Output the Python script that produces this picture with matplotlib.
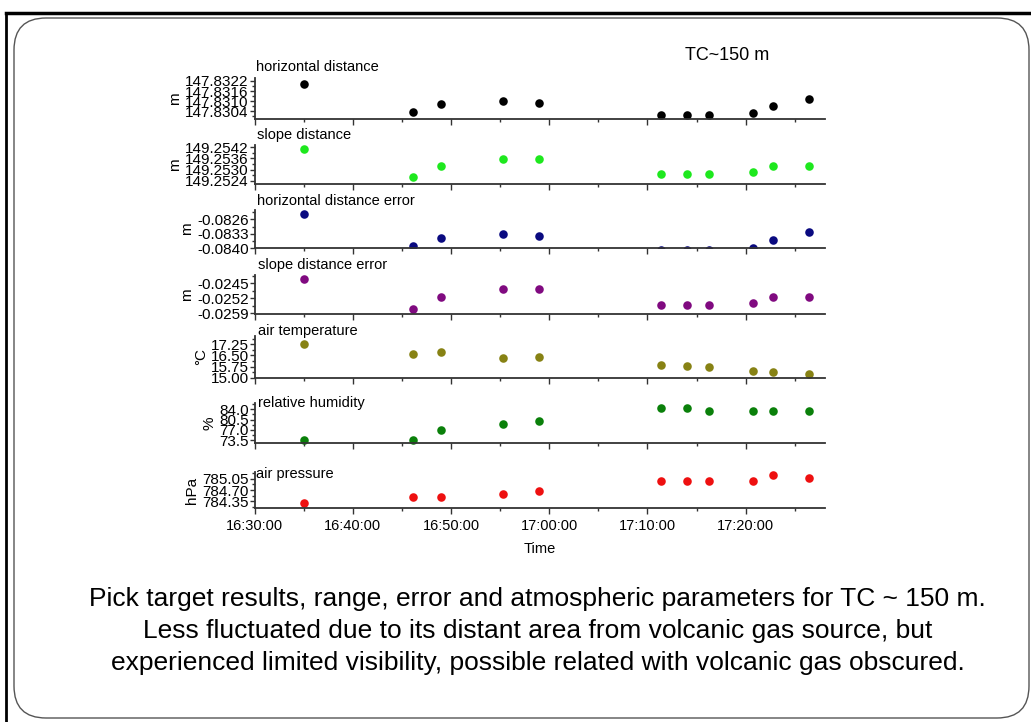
import matplotlib
matplotlib.use('Agg')
import matplotlib.pyplot as plt
import matplotlib.dates as mdates
from matplotlib.ticker import FormatStrFormatter, AutoMinorLocator
from matplotlib.patches import FancyBboxPatch
from matplotlib.lines import Line2D
import pandas as pd

plt.rcParams['font.family'] = ['Liberation Sans', 'DejaVu Sans']
plt.rcParams['axes.unicode_minus'] = False

# donnees
times = ['16:35:01', '16:46:09', '16:48:56', '16:55:19', '16:58:57', '17:11:24',
         '17:14:03', '17:16:14', '17:20:43', '17:22:49', '17:26:29']
horiz_dist = [147.83204, 147.83038, 147.83082, 147.83101, 147.83091, 147.8302,
              147.8302, 147.8302, 147.83032, 147.83072, 147.83111]
slope_dist = [149.25411, 149.25258, 149.25319, 149.25359, 149.25359, 149.25276,
              149.25276, 149.25276, 149.25287, 149.25319, 149.25319]
horiz_err = [-0.08234, -0.08387, -0.08352, -0.08332, -0.08342, -0.08407,
             -0.08407, -0.08407, -0.08397, -0.0836, -0.08321]
slope_err = [-0.0243, -0.0257, -0.02514, -0.02478, -0.02478, -0.02551,
             -0.02551, -0.02551, -0.02543, -0.02514, -0.02514]
air_temp = [17.25, 16.6, 16.73, 16.30, 16.41, 15.88, 15.79, 15.70, 15.47, 15.38, 15.27]
humidity = [73.6, 73.6, 76.9, 78.9, 80.2, 84.45, 84.45, 83.3, 83.3, 83.3, 83.3]
pressure = [784.29, 784.48, 784.48, 784.58, 784.68, 784.99, 784.99, 784.99,
            784.99, 785.19, 785.09]

titles = ['horizontal distance', 'slope distance', 'horizontal distance error',
          'slope distance error', 'air temperature', 'relative humidity', 'air pressure']
units = ['m', 'm', 'm', 'm', '°C', '%', 'hPa']
colors = ['black', '#1ee81e', '#0a0a80', '#800a80', '#878214', '#0a800a', '#ee1010']
yticks = [[147.8304, 147.8310, 147.8316, 147.8322],
          [149.2524, 149.2530, 149.2536, 149.2542],
          [-0.0840, -0.0833, -0.0826],
          [-0.0259, -0.0252, -0.0245],
          [15.00, 15.75, 16.50, 17.25],
          [73.5, 77.0, 80.5, 84.0],
          [784.35, 784.70, 785.05]]
ylims = [(147.82996, 147.83236), (149.25222, 149.25432), (-0.0840, -0.08215),
         (-0.02593, -0.02411), (15.00, 17.83), (72.69, 86.03), (784.12, 785.28)]
fmts = ['%.4f', '%.4f', '%.4f', '%.4f', '%.2f', '%.1f', '%.2f']
series = [horiz_dist, slope_dist, horiz_err, slope_err, air_temp, humidity, pressure]

W, H = 1031, 722
# position des panneaux en pixels (haut, bas) et des titres
panels_px = [(78.3, 118.7), (145, 184), (210, 248.3), (275, 314),
             (335.7, 377.7), (403.3, 442.7), (471.7, 508.3)]
title_px = [(256, 66.7), (256.7, 135), (256.7, 200.7), (257.7, 265),
            (257.7, 331), (257.7, 402.7), (256, 474)]
x_left, x_right = 254.7, 825

t = pd.to_datetime(['2020-01-01 ' + s for s in times])
t0 = pd.Timestamp('2020-01-01 16:30:00')
t1 = pd.Timestamp('2020-01-01 17:28:05')

fig = plt.figure(figsize=(W / 100, H / 100), dpi=100)

for i in range(7):
    top, bot = panels_px[i]
    ax = fig.add_axes([x_left / W, 1 - bot / H, (x_right - x_left) / W, (bot - top) / H])
    # seul le panneau 3 a des points sous l'axe (coupés)
    ax.scatter(t, series[i], s=38, color=colors[i], zorder=3, linewidths=0,
               clip_on=(i == 2))
    ax.set_xlim(t0, t1)
    ax.set_ylim(*ylims[i])
    ax.set_yticks(yticks[i])
    ax.yaxis.set_major_formatter(FormatStrFormatter(fmts[i]))
    ax.yaxis.set_minor_locator(AutoMinorLocator(2))
    ax.xaxis.set_major_locator(mdates.MinuteLocator(byminute=range(0, 60, 10)))
    ax.xaxis.set_minor_locator(mdates.MinuteLocator(byminute=range(0, 60, 5)))
    ax.xaxis.set_major_formatter(mdates.DateFormatter('%H:%M:%S'))
    for s in ['top', 'right']:
        ax.spines[s].set_visible(False)
    for s in ['left', 'bottom']:
        ax.spines[s].set_color('#333333')
        ax.spines[s].set_linewidth(1.3)
        ax.spines[s].set_zorder(4)
    ax.tick_params(axis='both', which='major', direction='out', length=3.3, width=1.0,
                   color='#333333', labelsize=11, pad=1)
    ax.tick_params(axis='both', which='minor', direction='out', length=2.2, width=1.0,
                   color='#333333')
    ax.tick_params(axis='x', which='major', length=4, labelsize=10.5, pad=4)
    if i < 6:
        ax.tick_params(axis='x', labelbottom=False)
    else:
        ax.set_xlabel('Time', fontsize=10.5, labelpad=6)
    ax.set_ylabel(units[i], fontsize=11, labelpad=2)
    ax.patch.set_alpha(0)
    tx, ty = title_px[i]
    fig.text(tx / W, 1 - ty / H, titles[i], fontsize=10.5, va='center', ha='left')

fig.text(726.7 / W, 1 - 55 / H, 'TC~150 m', fontsize=13, ha='center', va='center')

caption = ['Pick target results, range, error and atmospheric parameters for TC ~ 150 m.',
           'Less fluctuated due to its distant area from volcanic gas source, but',
           'experienced limited visibility, possible related with volcanic gas obscured.']
for k, line in enumerate(caption):
    fig.text(537.5 / W, 1 - (599 + 32 * k) / H, line, fontsize=19, ha='center', va='center')

# cadre arrondi de la diapositive
box = FancyBboxPatch((0.14, 0.04), 10.15, 7.0, boxstyle='round,pad=0,rounding_size=0.32',
                     transform=fig.dpi_scale_trans, fill=False, edgecolor='#555555',
                     linewidth=1.0)
fig.patches.append(box)
fig.add_artist(Line2D([6 / W, 1], [1 - 13 / H, 1 - 13 / H], color='black', linewidth=2.5,
                      transform=fig.transFigure))
fig.add_artist(Line2D([6 / W, 6 / W], [0, 1 - 13 / H], color='black', linewidth=2,
                      transform=fig.transFigure))

fig.savefig('out.png', dpi=100)
